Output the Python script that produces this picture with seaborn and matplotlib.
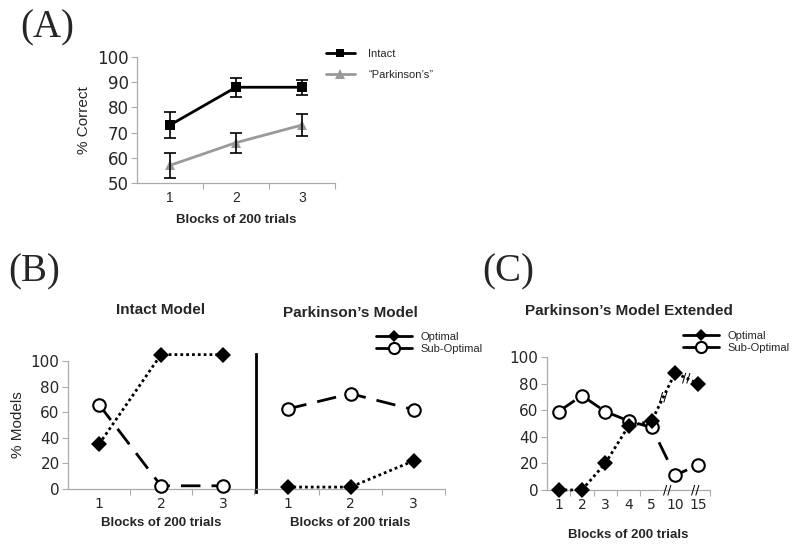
import numpy as np
import pandas as pd
import matplotlib
matplotlib.use("Agg")
import matplotlib.pyplot as plt
from matplotlib.lines import Line2D
import seaborn as sns

# ---------------- data ----------------
blocks3 = ["1", "2", "3"]
intact_correct = [73, 88, 88]
intact_err = [5, 3.8, 3]
park_correct = [57, 66, 73]
park_err = [5, 4, 4.5]

intact_opt = [35, 105, 105]
intact_sub = [66, 2.5, 2.5]
park_opt = [1.5, 1.5, 22]
park_sub = [62.5, 74.5, 62]

blocks_ext = ["1", "2", "3", "4", "5", "10", "15"]
ext_opt = [0, 0, 20, 48, 52, 88, 80]
ext_sub = [59, 71, 59, 52, 47, 11, 19]
ext_breaks = [4.65, 5.85]

sns.set_theme(style="white")
plt.rcParams["font.family"] = ["Liberation Sans", "DejaVu Sans"]

W, H = 800, 545
fig = plt.figure(figsize=(W / 100, H / 100), dpi=100)

AX_COL = "#ababab"


def fx(px):
    return px / W


def fy(py):
    return 1 - py / H


def add_ax(l, r, top, bot):
    return fig.add_axes([fx(l), fy(bot), fx(r - l), (bot - top) / H])


def style_cat_axis(ax, labels, ytick_vals, show_y=True, tick_font="DejaVu Sans", xfs=10):
    n = len(labels)
    ax.set_xlim(-0.5, n - 0.5)
    ax.set_xticks(np.arange(n) - 0.5 + 1, minor=False)
    ax.set_xticks(np.arange(n), minor=True)
    ax.set_xticklabels([], minor=False)
    ax.set_xticklabels(labels, minor=True, fontsize=xfs, family=tick_font)
    ax.tick_params(axis="x", which="major", length=4, width=0.8, color=AX_COL, direction="out", bottom=True)
    ax.tick_params(axis="x", which="minor", length=0, pad=6, bottom=True)
    for s in ["top", "right"]:
        ax.spines[s].set_visible(False)
    ax.spines["bottom"].set_color(AX_COL)
    ax.spines["bottom"].set_linewidth(0.9)
    if show_y:
        ax.spines["left"].set_color(AX_COL)
        ax.spines["left"].set_linewidth(0.9)
        ax.set_yticks(ytick_vals)
        ax.tick_params(axis="y", length=4, width=0.8, color=AX_COL, direction="out", left=True,
                       labelsize=11, pad=2)
        for t in ax.get_yticklabels():
            t.set_family("DejaVu Sans")
    else:
        ax.spines["left"].set_visible(False)
        ax.set_yticks([])
    ax.grid(False)
    ax.set_facecolor("none")
    ax.set_ylabel("")


# ---------------- Panel A ----------------
axA = add_ax(137, 335, 57, 183)
dfA = pd.DataFrame({
    "block": list(range(3)) * 2,
    "pct": intact_correct + park_correct,
    "model": ["Intact"] * 3 + ["\u201cParkinson\u2019s\u201d"] * 3,
})
palA = {"Intact": "black", "\u201cParkinson\u2019s\u201d": "#9a9a9a"}
sns.lineplot(data=dfA, x="block", y="pct", hue="model", style="model", palette=palA,
             markers={"Intact": "s", "\u201cParkinson\u2019s\u201d": "^"},
             dashes=False, markersize=6.5, linewidth=2, ax=axA, legend=False,
             markeredgewidth=0, clip_on=False)
axA.errorbar(range(3), intact_correct, yerr=intact_err, fmt="none", ecolor="black",
             elinewidth=1.2, capsize=4, capthick=1.2, clip_on=False)
axA.errorbar(range(3), park_correct, yerr=park_err, fmt="none", ecolor="black",
             elinewidth=1.2, capsize=4, capthick=1.2, clip_on=False)
axA.set_ylim(50, 100)
style_cat_axis(axA, blocks3, [50, 60, 70, 80, 90, 100], xfs=10)
axA.set_xticklabels(blocks3, minor=True, fontsize=10, family="Liberation Sans")
axA.tick_params(axis="y", labelsize=12)
axA.set_xlabel("Blocks of 200 trials", fontsize=9.5, fontweight="bold", labelpad=6)
axA.set_ylabel("% Correct", fontsize=11, labelpad=4)
hA = [Line2D([], [], color="black", lw=2, marker="s", markersize=5.5, markeredgewidth=0),
      Line2D([], [], color="#9a9a9a", lw=2, marker="^", markersize=7, markeredgewidth=0)]
fig.legend(hA, ["Intact", "\u201cParkinson\u2019s\u201d"], loc="upper left",
           bbox_to_anchor=(fx(316), fy(39)), frameon=False, fontsize=8,
           handlelength=2.6, handletextpad=1.2, labelspacing=1.0)
fig.text(fx(20), fy(28), "(A)", family="Liberation Serif", fontsize=28, va="center", ha="left")

# ---------------- Panel B ----------------
dashes_B = {"Optimal": (1, 1.1), "Sub-Optimal": (7, 4)}


def draw_opt_sub(ax, opt, sub, ms_d=8, ms_o=9):
    n = len(opt)
    df = pd.DataFrame({"block": list(range(n)) * 2, "pct": opt + sub,
                       "type": ["Optimal"] * n + ["Sub-Optimal"] * n})
    sns.lineplot(data=df[df.type == "Sub-Optimal"], x="block", y="pct", color="black",
                 marker="o", markersize=ms_o, markerfacecolor="white", markeredgecolor="black",
                 markeredgewidth=1.5, linewidth=2, linestyle=(0, dashes_B["Sub-Optimal"]),
                 ax=ax, legend=False, clip_on=False, zorder=3)
    sns.lineplot(data=df[df.type == "Optimal"], x="block", y="pct", color="black",
                 marker="D", markersize=ms_d, markeredgewidth=0, linewidth=2,
                 linestyle=(0, dashes_B["Optimal"]), ax=ax, legend=False, clip_on=False, zorder=4)


axB1 = add_ax(68, 254, 361, 489)
draw_opt_sub(axB1, intact_opt, intact_sub)
axB1.set_ylim(0, 100)
style_cat_axis(axB1, blocks3, [0, 20, 40, 60, 80, 100], xfs=10)
axB1.set_xlabel("Blocks of 200 trials", fontsize=9.5, fontweight="bold", labelpad=4)
axB1.set_ylabel("% Models", fontsize=11, labelpad=4)
axB1.set_title("Intact Model", fontsize=11, fontweight="bold", pad=34)

axB2 = add_ax(256, 445, 361, 489)
draw_opt_sub(axB2, park_opt, park_sub)
axB2.set_ylim(0, 100)
style_cat_axis(axB2, blocks3, [], show_y=False, xfs=10)
axB2.spines["left"].set_visible(True)
axB2.spines["left"].set_color("black")
axB2.spines["left"].set_linewidth(2)
axB2.spines["left"].set_bounds(-2.5, 105.5)
axB2.set_xlabel("Blocks of 200 trials", fontsize=9.5, fontweight="bold", labelpad=4)
axB2.set_title("Parkinson\u2019s Model", fontsize=11, fontweight="bold", pad=32)

hB = [Line2D([], [], color="black", lw=2, marker="D", markersize=6, markeredgewidth=0),
      Line2D([], [], color="black", lw=2, marker="o", markersize=8, markerfacecolor="white",
             markeredgewidth=1.5)]
fig.legend(hB, ["Optimal", "Sub-Optimal"], loc="upper left",
           bbox_to_anchor=(fx(366), fy(322)), frameon=False, fontsize=8,
           handlelength=3.2, handletextpad=0.8, labelspacing=0.15)
fig.text(fx(8), fy(272), "(B)", family="Liberation Serif", fontsize=28, va="center", ha="left")

# ---------------- Panel C ----------------
axC = add_ax(547, 710, 357, 490)
draw_opt_sub(axC, ext_opt, ext_sub, ms_d=8, ms_o=9)
axC.set_ylim(0, 100)
style_cat_axis(axC, blocks_ext, [0, 20, 40, 60, 80, 100], xfs=10)
axC.set_xticks([i + 0.5 for i in range(len(blocks_ext) - 1) if i not in (4, 5)] + [len(blocks_ext) - 0.5],
               minor=False)
axC.set_xticklabels([], minor=False)
axC.set_xlabel("Blocks of 200 trials", fontsize=9.5, fontweight="bold", labelpad=12)
axC.set_title("Parkinson\u2019s Model Extended", fontsize=11, fontweight="bold", pad=30)
for b in ext_breaks:
    axC.text(b, 0, "//", ha="center", va="center", fontsize=9, color="black",
             family="DejaVu Sans", clip_on=False, zorder=5)
# break marks on the optimal line between 5-10 and 10-15
for i in (4, 5):
    mx = i + 0.5
    my = (ext_opt[i] + ext_opt[i + 1]) / 2
    axC.text(mx, my, "//", ha="center", va="center", fontsize=9, color="black",
             family="DejaVu Sans", clip_on=False, zorder=5)

fig.legend(hB, ["Optimal", "Sub-Optimal"], loc="upper left",
           bbox_to_anchor=(fx(673), fy(321)), frameon=False, fontsize=8,
           handlelength=3.2, handletextpad=0.8, labelspacing=0.15)
fig.text(fx(482), fy(272), "(C)", family="Liberation Serif", fontsize=28, va="center", ha="left")

fig.savefig("out.png", dpi=100, facecolor="white")
